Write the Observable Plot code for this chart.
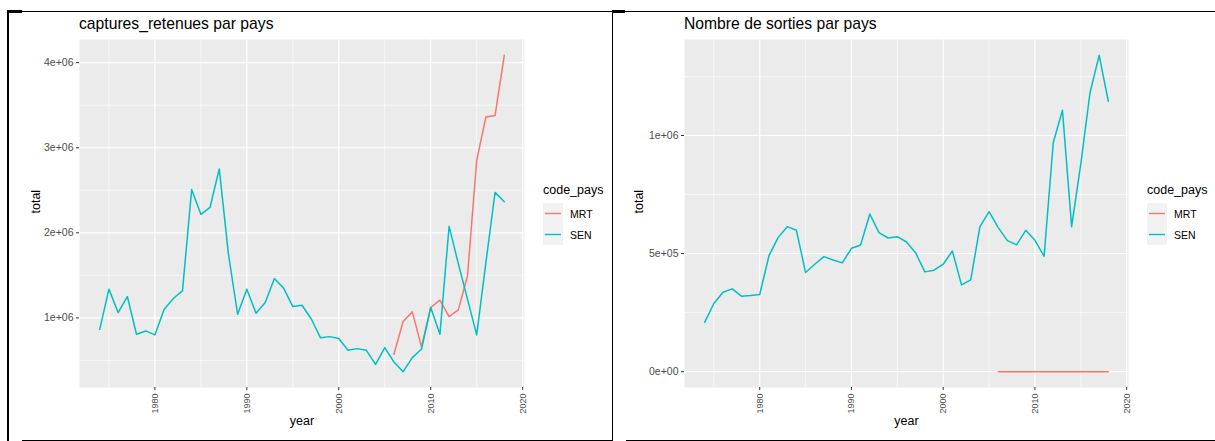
<!DOCTYPE html>
<html><head><meta charset="utf-8">
<script src="https://cdn.jsdelivr.net/npm/d3@7"></script>
<script src="https://cdn.jsdelivr.net/npm/@observablehq/plot@0.6"></script>
<style>
body{margin:0;width:1215px;height:441px;background:#fff;position:relative;overflow:hidden;font-family:"Liberation Sans",Arial,Helvetica,sans-serif;}
.hl{position:absolute;height:1.5px;background:#000;}
.vl{position:absolute;width:1.5px;background:#000;}
.title{position:absolute;font-size:15.7px;line-height:15px;color:#000;white-space:nowrap;}
.legend{position:absolute;color:#000;}
.legend .lt{font-size:12.5px;line-height:13px;white-space:nowrap;margin-bottom:6px;}
.key{display:flex;align-items:center;height:21px;}
.sw{width:20px;height:21px;background:#f2f2f2;}
.sw svg{display:block;}
.lab{font-size:10.5px;margin-left:7px;}
.plotbox{position:absolute;}
</style></head><body>
<div class="hl" style="left:7px;top:10.5px;width:606px"></div>
<div class="hl" style="left:7px;top:10px;width:15px;height:2.5px"></div>
<div class="vl" style="left:7px;top:10.5px;height:430px"></div>
<div class="hl" style="left:22px;top:439.5px;width:591px"></div>
<div class="vl" style="left:611.5px;top:10.5px;height:430px"></div>
<div class="hl" style="left:612px;top:10.5px;width:603px"></div>
<div class="hl" style="left:612px;top:10px;width:13px;height:2.5px"></div>
<div class="hl" style="left:626px;top:439.5px;width:589px"></div>
<script>
// ---------- data ----------
const years = d3.range(1974, 2019); // 1974..2018
const mrtYears = d3.range(2006, 2019); // 2006..2018
const codes = ["MRT", "SEN"];
const codeColors = ["#F8766D", "#00BFC4"];

const capturesSEN = [0.866e6, 1.338e6, 1.063e6, 1.251e6, 0.808e6, 0.847e6, 0.800e6, 1.100e6, 1.228e6, 1.318e6,
  2.510e6, 2.217e6, 2.300e6, 2.751e6, 1.750e6, 1.043e6, 1.338e6, 1.055e6, 1.180e6, 1.463e6,
  1.350e6, 1.133e6, 1.149e6, 0.990e6, 0.768e6, 0.780e6, 0.757e6, 0.619e6, 0.639e6, 0.619e6,
  0.454e6, 0.650e6, 0.482e6, 0.368e6, 0.533e6, 0.635e6, 1.122e6, 0.808e6, 2.076e6, 1.640e6,
  1.220e6, 0.800e6, 1.650e6, 2.475e6, 2.365e6];
const capturesMRT = [0.572e6, 0.957e6, 1.071e6, 0.660e6, 1.122e6, 1.208e6, 1.016e6, 1.094e6, 1.495e6,
  2.850e6, 3.360e6, 3.380e6, 4.086e6];

const sortiesSEN = [208500, 288700, 336600, 350700, 319700, 322500, 326800, 490000, 567600, 614000,
  598600, 419700, 455000, 487000, 473000, 460600, 522500, 536600, 667600, 588700,
  566000, 571800, 549000, 502800, 422600, 429600, 455000, 511000, 367600, 388700,
  612700, 677500, 610000, 555000, 536600, 598600, 556400, 488700, 970500, 1107000,
  614000, 880000, 1180000, 1339500, 1145000];
const sortiesMRT = [0, 0, 0, 0, 0, 0, 0, 0, 0, 0, 0, 0, 0];

const xTicks = [1980, 1990, 2000, 2010, 2020];
const xMinor = [1975, 1985, 1995, 2005, 2015];
const yTicksCaptures = [1e6, 2e6, 3e6, 4e6];
const yMinorCaptures = [0.5e6, 1.5e6, 2.5e6, 3.5e6];
const yTicksSorties = [0, 5e5, 1e6];
const yMinorSorties = [2.5e5, 7.5e5, 1.25e6];

const titleCaptures = "captures_retenues par pays";
const titleSorties = "Nombre de sorties par pays";

// ---------- helpers ----------
function rows(mrt, sen) {
  return [
    ...mrtYears.map((y, i) => ({year: y, total: mrt[i], code_pays: "MRT"})),
    ...years.map((y, i) => ({year: y, total: sen[i], code_pays: "SEN"}))
  ];
}
function expand([a, b], f = 0.05) { const p = (b - a) * f; return [a - p, b + p]; }
function sci(d) {
  if (d === 0) return "0e+00";
  const e = Math.floor(Math.log10(Math.abs(d)));
  const m = +(d / 10 ** e).toFixed(2);
  return `${m}e${e < 0 ? "-" : "+"}${String(Math.abs(e)).padStart(2, "0")}`;
}

function panel({data, yTicks, yMinor, title, svgLeft, frameLeft, frameRight, legendLeft, yLabelDx}) {
  const svgTop = 30, frameTop = 39, frameBottom = 387, H = 408;
  const W = frameRight - svgLeft + 8;
  const xDomain = expand(d3.extent(data, d => d.year));
  const yDomain = expand(d3.extent(data, d => d.total));
  const chart = Plot.plot({
    width: W, height: H,
    marginLeft: frameLeft - svgLeft, marginRight: 8,
    marginTop: frameTop - svgTop, marginBottom: svgTop + H - frameBottom,
    style: {fontFamily: '"Liberation Sans", Arial, Helvetica, sans-serif', background: "transparent", overflow: "visible", color: "#000"},
    x: {domain: xDomain},
    y: {domain: yDomain},
    color: {domain: codes, range: codeColors},
    marks: [
      Plot.frame({fill: "#ebebeb", stroke: "none"}),
      Plot.gridX(xMinor, {stroke: "#fff", strokeOpacity: 1, strokeWidth: 0.6}),
      Plot.gridY(yMinor, {stroke: "#fff", strokeOpacity: 1, strokeWidth: 0.6}),
      Plot.gridX(xTicks, {stroke: "#fff", strokeOpacity: 1, strokeWidth: 1.2}),
      Plot.gridY(yTicks, {stroke: "#fff", strokeOpacity: 1, strokeWidth: 1.2}),
      Plot.line(data, {x: "year", y: "total", z: "code_pays", stroke: "code_pays", strokeWidth: 1.5}),
      Plot.axisX(xTicks, {tickSize: 3, tickPadding: 3, tickRotate: -90, tickFormat: d => String(d), fontSize: 9, fill: "#4d4d4d", stroke: "#333", label: null}),
      Plot.axisY(yTicks, {tickSize: 3, tickPadding: 3, tickFormat: sci, fontSize: 10.5, fill: "#4d4d4d", stroke: "#333", label: null}),
      Plot.text(["year"], {text: d => d, frameAnchor: "bottom", dy: 37, fontSize: 12.5, fill: "#000"}),
      Plot.text(["total"], {text: d => d, frameAnchor: "left", rotate: -90, dx: yLabelDx, fontSize: 12.5, fill: "#000"})
    ]
  });
  const box = document.createElement("div");
  box.className = "plotbox";
  box.style.left = svgLeft + "px";
  box.style.top = svgTop + "px";
  box.appendChild(chart);
  document.body.appendChild(box);

  const t = document.createElement("div");
  t.className = "title";
  t.style.left = frameLeft + "px";
  t.style.top = "16px";
  t.textContent = title;
  document.body.appendChild(t);

  const lg = document.createElement("div");
  lg.className = "legend";
  lg.style.left = legendLeft + "px";
  lg.style.top = "184px";
  const lt = document.createElement("div");
  lt.className = "lt"; lt.textContent = "code_pays";
  lg.appendChild(lt);
  codes.forEach((c, i) => {
    const k = document.createElement("div");
    k.className = "key";
    k.innerHTML = `<div class="sw"><svg width="20" height="21"><line x1="2" x2="18" y1="10.5" y2="10.5" stroke="${codeColors[i]}" stroke-width="1.4"/></svg></div><div class="lab">${c}</div>`;
    lg.appendChild(k);
  });
  document.body.appendChild(lg);
}

panel({data: rows(capturesMRT, capturesSEN), yTicks: yTicksCaptures, yMinor: yMinorCaptures, title: titleCaptures,
  svgLeft: 8, frameLeft: 79, frameRight: 524, legendLeft: 543, yLabelDx: -44});
panel({data: rows(sortiesMRT, sortiesSEN), yTicks: yTicksSorties, yMinor: yMinorSorties, title: titleSorties,
  svgLeft: 614, frameLeft: 684, frameRight: 1128, legendLeft: 1147, yLabelDx: -46});
</script></body></html>
